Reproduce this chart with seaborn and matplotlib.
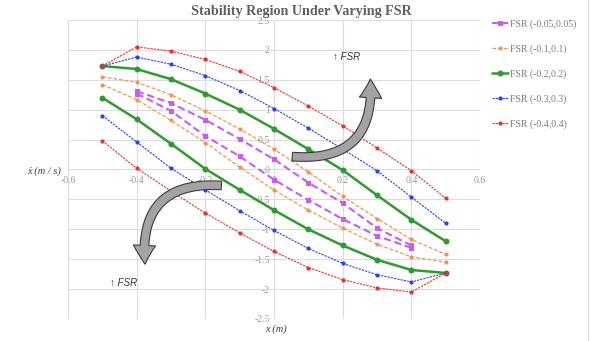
import matplotlib
matplotlib.use("Agg")
import matplotlib.pyplot as plt
import seaborn as sns
import pandas as pd
from matplotlib.patches import FancyArrowPatch
from matplotlib.lines import Line2D

# ---------------- data ----------------
x_full = [-0.5, -0.4, -0.3, -0.2, -0.1, 0.0, 0.1, 0.2, 0.3, 0.4, 0.5]
x_narrow = [-0.4, -0.3, -0.2, -0.1, 0.0, 0.1, 0.2, 0.3, 0.4]

fsr005_upper = [1.31, 1.11, 0.83, 0.51, 0.17, -0.22, -0.56, -0.98, -1.27]
fsr005_lower = [1.27, 0.98, 0.56, 0.22, -0.17, -0.51, -0.83, -1.11, -1.31]
fsr01_upper = [1.55, 1.46, 1.25, 0.98, 0.68, 0.34, -0.04, -0.45, -0.82, -1.17, -1.42]
fsr01_lower = [1.42, 1.17, 0.82, 0.45, 0.04, -0.34, -0.68, -0.98, -1.25, -1.46, -1.55]
fsr02_upper = [1.73, 1.68, 1.51, 1.27, 1.00, 0.68, 0.34, -0.01, -0.43, -0.84, -1.20]
fsr02_lower = [1.20, 0.84, 0.43, 0.01, -0.34, -0.68, -1.00, -1.27, -1.51, -1.68, -1.73]
fsr03_upper = [1.73, 1.88, 1.76, 1.57, 1.32, 1.02, 0.69, 0.34, -0.02, -0.46, -0.90]
fsr03_lower = [0.90, 0.46, 0.02, -0.34, -0.69, -1.02, -1.32, -1.57, -1.76, -1.88, -1.73]
fsr04_upper = [1.73, 2.05, 1.98, 1.84, 1.64, 1.37, 1.06, 0.73, 0.36, -0.02, -0.48]
fsr04_lower = [0.48, 0.02, -0.36, -0.73, -1.06, -1.37, -1.64, -1.84, -1.98, -2.05, -1.73]

series_labels = ["FSR (-0.05,0.05)", "FSR (-0.1,0.1)", "FSR (-0.2,0.2)",
                 "FSR (-0.3,0.3)", "FSR (-0.4,0.4)"]

x_ticks = [-0.6, -0.4, -0.2, 0.0, 0.2, 0.4, 0.6]
x_tick_labels = ["-0.6", "-0.4", "-0.2", "0", "0.2", "0.4", "0.6"]
y_ticks = [-2.5, -2, -1.5, -1, -0.5, 0, 0.5, 1, 1.5, 2, 2.5]
y_tick_labels = ["-2.5", "-2", "-1.5", "-1", "-0.5", "0", "0.5", "1", "1.5", "2", "2.5"]

title = "Stability Region Under Varying FSR"
xlabel = "x (m)"
ylabel = "ẋ (m / s)"
note = "↑ FSR"

# ---------------- style ----------------
sns.set_style("white")
plt.rcParams["font.family"] = ["Liberation Serif", "DejaVu Serif"]
plt.rcParams["axes.unicode_minus"] = False

W, H = 596, 341
fig = plt.figure(figsize=(W / 100, H / 100), dpi=100)
ax = fig.add_axes([68 / W, 1 - 319 / H, 412 / W, 299 / H])

styles = [
    dict(color="#C95CF2", linestyle=(0, (3.5, 1.8)), linewidth=1.5, marker="s", markersize=3.6),
    dict(color="#F0955A", linestyle=(0, (3, 1.5)), linewidth=0.9, marker="o", markersize=3.0),
    dict(color="#2F9A2F", linestyle="-", linewidth=1.8, marker="o", markersize=4.3),
    dict(color="#2A3FF0", linestyle=(0, (2, 1)), linewidth=0.8, marker="o", markersize=3.0),
    dict(color="#E8302E", linestyle=(0, (2, 1)), linewidth=0.8, marker="o", markersize=3.0),
]

curves = [
    (x_narrow, fsr005_upper, fsr005_lower),
    (x_full, fsr01_upper, fsr01_lower),
    (x_full, fsr02_upper, fsr02_lower),
    (x_full, fsr03_upper, fsr03_lower),
    (x_full, fsr04_upper, fsr04_lower),
]

for (xs, up, lo), st, lab in zip(curves, styles, series_labels):
    for ys, l in ((up, lab), (lo, "_nolegend_")):
        df = pd.DataFrame({"x": xs, "y": ys})
        sns.lineplot(data=df, x="x", y="y", ax=ax, sort=False, estimator=None,
                     label=l, markeredgewidth=0, zorder=3, **st)

ax.set_xlim(-0.6, 0.6)
ax.set_ylim(-2.5, 2.5)
ax.set_xticks(x_ticks)
ax.set_xticklabels(x_tick_labels)
ax.set_yticks(y_ticks)
ax.set_yticklabels(y_tick_labels)
ax.set_xlabel("")
ax.set_ylabel("")
ax.spines["left"].set_position(("data", 0))
ax.spines["bottom"].set_position(("data", 0))
for s in ax.spines.values():
    s.set_visible(False)
ax.grid(True, color="#dcdcdc", linewidth=0.8)
ax.tick_params(axis="both", length=0, labelsize=7, labelcolor="#9a9a9a")
ax.tick_params(axis="x", pad=5)
ax.tick_params(axis="y", pad=3)

# legend
leg = ax.legend(loc="upper left", bbox_to_anchor=(492 / W, 1 - 19.5 / H),
                bbox_transform=fig.transFigure, frameon=False, fontsize=7,
                handlelength=1.6, handletextpad=0.2, labelspacing=1.58,
                borderpad=0, borderaxespad=0)
for t in leg.get_texts():
    t.set_color("#7a7a7a")

# curved arrows
arrow_kw = dict(arrowstyle="simple,head_length=1.35,head_width=1.6,tail_width=0.62",
                mutation_scale=10, facecolor="#a3a3a3", edgecolor="#3c3c3c",
                linewidth=0.8, zorder=10)
ax.add_patch(FancyArrowPatch((0.045, 0.22), (0.28, 1.56),
                             connectionstyle="arc3,rad=0.6", **arrow_kw))
ax.add_patch(FancyArrowPatch((-0.145, -0.27), (-0.375, -1.63),
                             connectionstyle="arc3,rad=0.6", **arrow_kw))

sans = ["Liberation Sans", "DejaVu Sans"]
fig.text(333 / W, 1 - 57 / H, note, fontsize=7, style="italic", family=sans,
         color="#333333", va="center", ha="left")
fig.text(110 / W, 1 - 283 / H, note, fontsize=7, style="italic", family=sans,
         color="#333333", va="center", ha="left")

# titles / labels
fig.text(301 / W, 1 - 11 / H, title, fontsize=10.2, fontweight="bold",
         color="#5f5f5f", ha="center", va="center")
fig.text(276 / W, 1 - 329 / H, xlabel, fontsize=7.5, style="italic",
         color="#404040", ha="center", va="center")
fig.text(44 / W, 1 - 171 / H, ylabel, fontsize=7.5, style="italic",
         color="#404040", ha="center", va="center")

# chart frame right edge
fig.add_artist(Line2D([588 / W, 588 / W], [0, 1], transform=fig.transFigure,
                      color="#d9d9d9", linewidth=0.8))

fig.savefig("out.png", dpi=100)
